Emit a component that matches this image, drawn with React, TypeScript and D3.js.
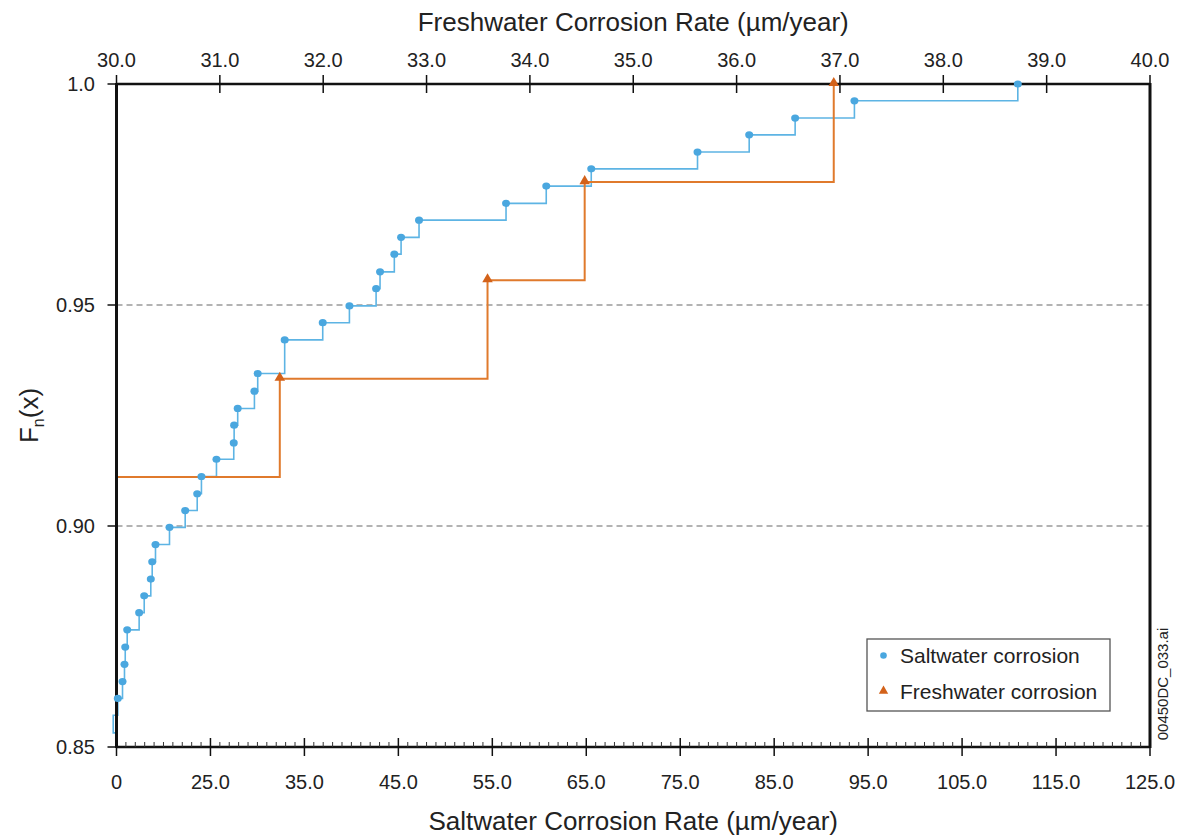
import React from "react";
import * as d3 from "d3";

const W = 1179;
const H = 835;
const PL = 116.5;
const PR = 1150;
const PT = 84;
const PB = 747;

// Saltwater corrosion ECDF (bottom axis)
const saltX = [
  15.14, 15.64, 15.85, 15.93, 16.14, 17.41, 17.95, 18.65, 18.8, 19.15,
  20.64, 22.31, 23.59, 24.04, 25.64, 27.48, 27.52, 27.9, 29.68, 30.03,
  32.9, 36.95, 39.79, 42.63, 43.05, 44.57, 45.29, 47.2, 56.46, 60.74,
  65.53, 76.84, 82.34, 87.23, 93.54, 110.93,
];
const saltF = [
  0.861, 0.8648, 0.8687, 0.8726, 0.8765, 0.8804, 0.8842, 0.888, 0.8919, 0.8958,
  0.8997, 0.9035, 0.9073, 0.9112, 0.9151, 0.9188, 0.9228, 0.9266, 0.9305, 0.9345,
  0.9421, 0.946, 0.9498, 0.9537, 0.9575, 0.9615, 0.9653, 0.9692, 0.973, 0.9769,
  0.9808, 0.9846, 0.9885, 0.9923, 0.9962, 1.0,
];
// unmarked start of the saltwater step line (below first marker)
const saltLeadX = [14.85, 14.65];
const saltLeadF = [0.8532, 0.8572];

// Freshwater corrosion ECDF (top axis)
const freshX = [31.58, 33.59, 34.53, 36.94];
const freshF = [0.9333, 0.9556, 0.9778, 1.0];
const freshLeadX = [30.0];
const freshLeadF = [0.9111];

const bottomTicks = [15, 25, 35, 45, 55, 65, 75, 85, 95, 105, 115, 125];
const bottomTickLabels = ["0", "25.0", "35.0", "45.0", "55.0", "65.0", "75.0", "85.0", "95.0", "105.0", "115.0", "125.0"];
const topTicks = [30, 31, 32, 33, 34, 35, 36, 37, 38, 39, 40];
const topTickLabels = ["30.0", "31.0", "32.0", "33.0", "34.0", "35.0", "36.0", "37.0", "38.0", "39.0", "40.0"];
const yTicks = [0.85, 0.9, 0.95, 1.0];
const yTickLabels = ["0.85", "0.90", "0.95", "1.0"];
const gridValues = [0.9, 0.95];

const FONT = "'Liberation Sans', Arial, Helvetica, sans-serif";
const BLUE_LINE = "#5db4e4";
const BLUE_DOT = "#4aa7df";
const ORANGE_LINE = "#e07a2c";
const ORANGE_MARK = "#d3621a";

export default function App() {
  const xS = d3.scaleLinear().domain([15, 125]).range([PL, PR]);
  const xF = d3.scaleLinear().domain([30, 40]).range([PL, PR]);
  const y = d3.scaleLinear().domain([0.85, 1.0]).range([PB, PT]);

  const stepS = d3
    .line<[number, number]>()
    .x((d) => xS(d[0]))
    .y((d) => y(d[1]))
    .curve(d3.curveStepAfter);
  const stepF = d3
    .line<[number, number]>()
    .x((d) => xF(d[0]))
    .y((d) => y(d[1]))
    .curve(d3.curveStepAfter);

  const saltPts: [number, number][] = [
    ...saltLeadX.map((v, i) => [v, saltLeadF[i]] as [number, number]),
    ...saltX.map((v, i) => [v, saltF[i]] as [number, number]),
  ];
  const freshPts: [number, number][] = [
    ...freshLeadX.map((v, i) => [v, freshLeadF[i]] as [number, number]),
    ...freshX.map((v, i) => [v, freshF[i]] as [number, number]),
  ];

  const tri = d3.symbol().type(d3.symbolTriangle).size(48)() as string;
  const triLegend = d3.symbol().type(d3.symbolTriangle).size(38)() as string;

  const minorTicks = d3.range(16, 125).filter((v) => (v - 15) % 10 !== 0);

  return (
    <svg
      width={W}
      height={H}
      style={{ position: "absolute", left: 0, top: 0, display: "block", background: "#fff" }}
      fontFamily={FONT}
    >
      <rect x={0} y={0} width={W} height={H} fill="#fff" />

      {/* gridlines */}
      {gridValues.map((g) => (
        <line
          key={g}
          x1={PL}
          x2={PR}
          y1={y(g)}
          y2={y(g)}
          stroke="#9a9a9a"
          strokeWidth={1.3}
          strokeDasharray="6,4"
        />
      ))}

      {/* series lines */}
      <path d={stepS(saltPts) || ""} fill="none" stroke={BLUE_LINE} strokeWidth={1.6} />
      <path d={stepF(freshPts) || ""} fill="none" stroke={ORANGE_LINE} strokeWidth={2} />

      {/* frame */}
      <line x1={PL} x2={PR} y1={PT} y2={PT} stroke="#111" strokeWidth={2.5} />
      <line x1={PL} x2={PR} y1={PB} y2={PB} stroke="#111" strokeWidth={2.5} />
      <line x1={PL} x2={PL} y1={PT - 1} y2={PB + 1} stroke="#111" strokeWidth={3} />
      <line x1={PR} x2={PR} y1={PT - 1} y2={PB + 1} stroke="#111" strokeWidth={3} />

      {/* bottom axis ticks */}
      {bottomTicks.map((t, i) => (
        <g key={"b" + t}>
          <line x1={xS(t)} x2={xS(t)} y1={PB - 9} y2={PB + 9} stroke="#111" strokeWidth={1.5} />
          <text x={xS(t)} y={789} textAnchor="middle" fontSize={20} fill="#222">
            {bottomTickLabels[i]}
          </text>
        </g>
      ))}
      {minorTicks.map((t) => (
        <line key={"m" + t} x1={xS(t)} x2={xS(t)} y1={PB - 5} y2={PB} stroke="#333" strokeWidth={1} />
      ))}

      {/* top axis ticks */}
      {topTicks.map((t, i) => (
        <g key={"t" + t}>
          <line x1={xF(t)} x2={xF(t)} y1={PT - 9} y2={PT + 9} stroke="#111" strokeWidth={1.5} />
          <text x={xF(t)} y={67} textAnchor="middle" fontSize={20} fill="#222">
            {topTickLabels[i]}
          </text>
        </g>
      ))}

      {/* y axis ticks */}
      {yTicks.map((t, i) => (
        <g key={"y" + t}>
          <line x1={PL - 9} x2={PL} y1={y(t)} y2={y(t)} stroke="#111" strokeWidth={1.5} />
          <text x={95} y={y(t) + 7} textAnchor="end" fontSize={20} fill="#222">
            {yTickLabels[i]}
          </text>
        </g>
      ))}

      {/* markers */}
      {saltX.map((v, i) => (
        <ellipse key={"sd" + i} cx={xS(v)} cy={y(saltF[i])} rx={4} ry={3.6} fill={BLUE_DOT} />
      ))}
      {freshX.map((v, i) => (
        <path
          key={"fd" + i}
          d={tri}
          transform={`translate(${xF(v)},${y(freshF[i]) - 1})`}
          fill={ORANGE_MARK}
        />
      ))}

      {/* axis titles */}
      <text x={(PL + PR) / 2} y={31} textAnchor="middle" fontSize={26} fill="#222">
        Freshwater Corrosion Rate (µm/year)
      </text>
      <text x={(PL + PR) / 2} y={830} textAnchor="middle" fontSize={26} fill="#222">
        Saltwater Corrosion Rate (µm/year)
      </text>
      <text transform={`translate(38,${(PT + PB) / 2}) rotate(-90)`} textAnchor="middle" fontSize={26} fill="#222">
        F<tspan fontSize={16} dy={6}>n</tspan>
        <tspan dy={-6}>(x)</tspan>
      </text>

      {/* legend */}
      <rect x={867} y={639} width={243} height={72} fill="#fff" stroke="#555" strokeWidth={1.3} />
      <circle cx={883.5} cy={655.5} r={3.3} fill={BLUE_DOT} />
      <text x={900} y={663} fontSize={21} fill="#222">
        Saltwater corrosion
      </text>
      <path d={triLegend} transform="translate(883.5,691)" fill={ORANGE_MARK} />
      <text x={900} y={699} fontSize={21} fill="#222">
        Freshwater corrosion
      </text>

      {/* file tag */}
      <text transform="translate(1168,684) rotate(-90)" textAnchor="middle" fontSize={15} fill="#222">
        00450DC_033.ai
      </text>
    </svg>
  );
}
